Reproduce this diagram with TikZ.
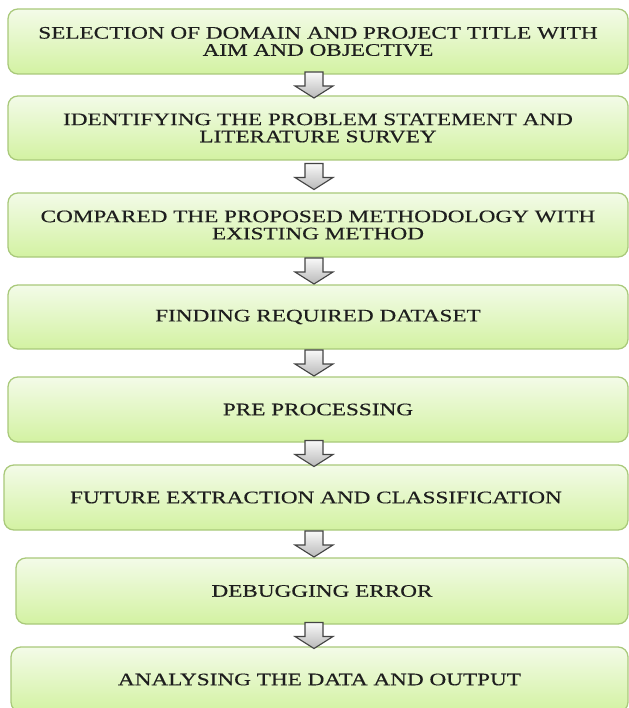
\documentclass[tikz,border=0pt]{standalone}
\usepackage{fontspec}
\setmainfont{Liberation Serif}[FakeStretch=1.32, FakeBold=0.4]
\usetikzlibrary{calc,positioning}

\begin{document}
\begin{tikzpicture}[x=0.025cm, y=-0.025cm,
    stepBox/.style={rounded corners=7pt, draw=borderColour, line width=0.9pt,
        top color=topColour, bottom color=bottomColour, align=center,
        text=textColour, font=\fontsize{12.5}{12.2}\selectfont, inner sep=0pt},
    arrowShade/.style={draw=arrowBorder, line width=0.8pt,
        top color=gray!5, bottom color=gray!55}]
    \def\px{0.025cm}

    \definecolor{borderColour}{HTML}{A9C97A}
    \definecolor{topColour}{HTML}{F3FBE8}
    \definecolor{bottomColour}{HTML}{D3F2A2}
    \definecolor{arrowBorder}{HTML}{444444}
    \definecolor{textColour}{HTML}{1E1E1E}

    % Frame of the picture
    \clip (0,0) rectangle (629,708);
    \fill[white] (0,0) rectangle (629,708);

    % Steps
    \node[stepBox, minimum width=620*\px, minimum height=65*\px] (s1) at (318,41.5)
        {SELECTION OF DOMAIN AND PROJECT TITLE WITH\\AIM AND OBJECTIVE};
    \node[stepBox, minimum width=620*\px, minimum height=64*\px] (s2) at (318,128)
        {IDENTIFYING THE PROBLEM STATEMENT AND\\LITERATURE SURVEY};
    \node[stepBox, minimum width=620*\px, minimum height=64*\px] (s3) at (318,225)
        {COMPARED THE PROPOSED METHODOLOGY WITH\\EXISTING METHOD};
    \node[stepBox, minimum width=620*\px, minimum height=64*\px] (s4) at (318,317)
        {FINDING REQUIRED DATASET};
    \node[stepBox, minimum width=620*\px, minimum height=65*\px] (s5) at (318,409.5)
        {PRE PROCESSING};
    \node[stepBox, minimum width=624*\px, minimum height=65*\px] (s6) at (316,497.5)
        {FUTURE EXTRACTION AND CLASSIFICATION};
    \node[stepBox, minimum width=612*\px, minimum height=66*\px] (s7) at (322,591)
        {DEBUGGING ERROR};
    \node[stepBox, minimum width=617*\px, minimum height=65*\px] (s8) at (319.5,679.5)
        {ANALYSING THE DATA AND OUTPUT};

    % Block arrows between the steps
    \coordinate (axis) at (314,0);
    \foreach \a/\b in {s1/s2,s2/s3,s3/s4,s4/s5,s5/s6,s6/s7,s7/s8} {
        \coordinate (m) at ($(\a.south -| axis)!0.5!(\b.north -| axis)$);
        \shade[arrowShade] ($(m)+(-9,-13)$) -- ($(m)+(9,-13)$) -- ($(m)+(9,1)$)
            -- ($(m)+(19,1)$) -- ($(m)+(0,13)$) -- ($(m)+(-19,1)$)
            -- ($(m)+(-9,1)$) -- cycle;
    }
\end{tikzpicture}
\end{document}
